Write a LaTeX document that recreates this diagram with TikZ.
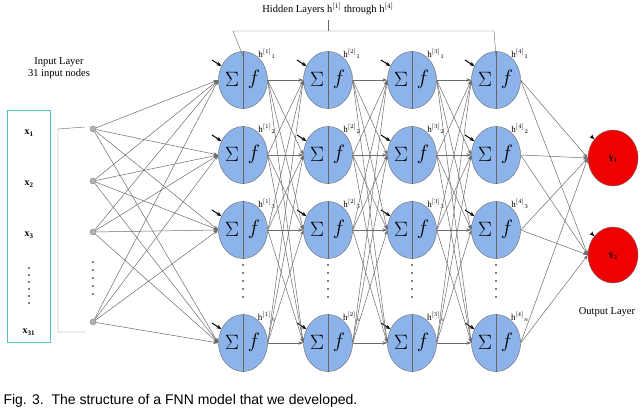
\documentclass[tikz,border=0pt]{standalone}
\usepackage{fontspec}
\setmainfont{Liberation Serif}
\newfontfamily\capfont{Liberation Sans}
\usetikzlibrary{shapes.geometric,arrows.meta}
\definecolor{nblue}{RGB}{141,180,234}
\definecolor{ored}{RGB}{240,0,0}
\definecolor{boxc}{RGB}{90,190,200}
\begin{document}
\begin{tikzpicture}[x=1pt,y=-1pt,
  neuron/.style={ellipse,draw=gray!80!black,fill=nblue,minimum width=49pt,minimum height=57pt,inner sep=0pt},
  outn/.style={ellipse,draw=gray!80!black,fill=ored,minimum width=50pt,minimum height=56pt,inner sep=0pt,font=\fontsize{8}{9}\selectfont\bfseries},
  conn/.style={draw=gray!85!black,line width=0.5pt,-{Stealth[length=5pt,width=3.5pt]}},
  bias/.style={-{Stealth[length=5pt,width=4pt]},line width=1pt,black},
  dot/.style={circle,fill=gray!60,draw=gray,minimum size=6pt,inner sep=0pt},
  lbl/.style={font=\fontsize{9}{10}\selectfont,inner sep=0pt},
  txt/.style={font=\fontsize{10.5}{12}\selectfont}]
\useasboundingbox (0,0) rectangle (640,413);
% input
\draw[boxc,line width=0.8pt] (7,110) rectangle (50,342);
\node[font=\fontsize{10}{11}\selectfont\bfseries] (x1) at (29,133) {x$_{\mathbf 1}$};
\node[font=\fontsize{10}{11}\selectfont\bfseries] (x2) at (29,184) {x$_{\mathbf 2}$};
\node[font=\fontsize{10}{11}\selectfont\bfseries] (x3) at (29,235) {x$_{\mathbf 3}$};
\node[font=\fontsize{10}{11}\selectfont\bfseries] (x31) at (29,332) {x$_{\mathbf{31}}$};
\foreach \y in {268,275,282,289,296,303} \fill (29,\y) circle (0.8pt);
\draw[gray!80!black] (85,127) -- (58,129) -- (58,332) -- (85,332);
\node[txt,align=center] (inl) at (59,68) {Input Layer\\31 input nodes};
\node[dot] (i1) at (93,129) {};
\node[dot] (i2) at (93,181) {};
\node[dot] (i3) at (93,232) {};
\node[dot] (i4) at (93,322) {};
\foreach \y in {262,270,278,286,294} \fill (93,\y) circle (0.8pt);
% hidden
\foreach \c/\x in {1/243,2/328,3/412,4/496}{
  \foreach \r/\y/\s in {1/80/1,2/155/2,3/230/3,4/343/n}{
    \node[neuron] (h\c\r) at (\x,\y) {};
    \draw[gray!80!black] (h\c\r.north) -- (h\c\r.south);
    \node at ([xshift=-11pt,yshift=1pt]h\c\r) {\fontsize{22}{22}\selectfont$\Sigma$};
    \node at ([xshift=11pt,yshift=1pt]h\c\r) {\fontsize{22}{22}\selectfont$f$};
    \node[lbl] at ([xshift=24pt,yshift=26pt]h\c\r) {h$^{[\c]}$$_{\s}$};
    \coordinate (b\c\r) at ([xshift=-31pt,yshift=20pt]h\c\r);
    \draw[bias] (b\c\r) -- ([xshift=-19pt,yshift=11pt]h\c\r);
  }
  \foreach \y in {265,273,281,289,297} \fill (\x,\y) circle (0.8pt);
}
\foreach \i in {1,...,4}\foreach \r in {1,...,4} \draw[conn] (i\i) -- (h1\r.west);
\foreach \c/\n in {1/2,2/3,3/4}\foreach \a in {1,...,4}\foreach \b in {1,...,4}
  \draw[conn] (h\c\a.east) -- (h\n\b.west);
% outputs
\node[outn] (o1) at (613,158) {$\hat{\mathbf{Y}}_{\mathbf 1}$};
\node[outn] (o2) at (613,255) {$\hat{\mathbf{Y}}_{\mathbf 2}$};
\foreach \o in {1,2}{
  \coordinate (bo\o) at ([xshift=-22pt,yshift=22pt]o\o);
  \draw[bias] (bo\o) -- ([xshift=-12pt,yshift=15pt]o\o);
  \foreach \a in {1,...,4} \draw[conn] (h4\a.east) -- (o\o.west);
}
\node[txt] (outl) at (607,312) {Output Layer};
% hidden bracket
\node[txt] (hl) at (328,9) {Hidden Layers h$^{[1]}$ through h$^{[4]}$};
\draw[gray!80!black] ([yshift=-5pt]h11.north) -- (233,31) -- (494,31) -- ([yshift=-5pt]h41.north);
\draw[gray!80!black] (328,31) -- (328,20);
\node[font=\capfont\fontsize{14}{15}\selectfont,anchor=west] (cap) at (0,401) {Fig. 3.\ \ The structure of a FNN model that we developed.};
\end{tikzpicture}
\end{document}
